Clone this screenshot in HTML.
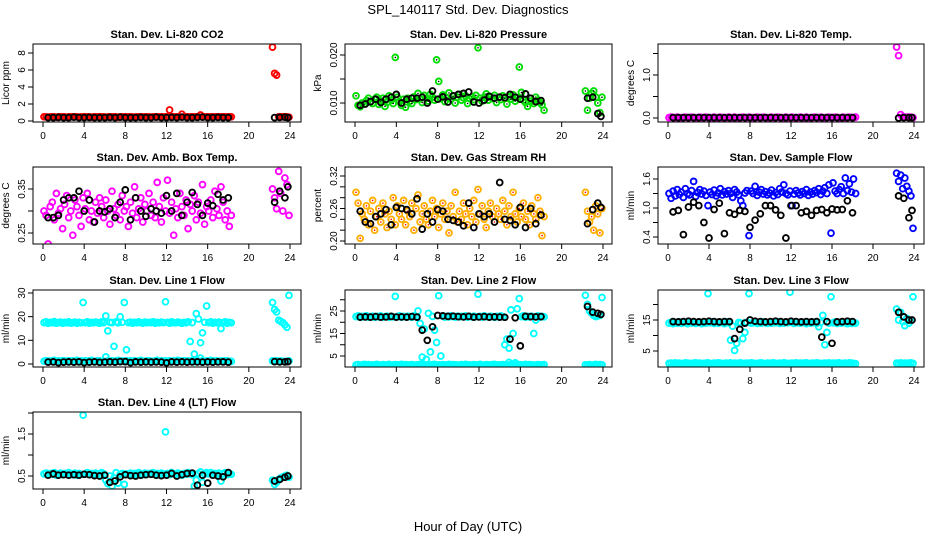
<!DOCTYPE html>
<html><head><meta charset="utf-8"><style>
html,body{margin:0;padding:0;background:#fff;}
svg{display:block;font-family:"Liberation Sans",sans-serif;}
</style></head><body>
<svg id="chart" width="936" height="540" viewBox="0 0 936 540">
<text x="468" y="14" text-anchor="middle" font-size="13">SPL_140117  Std. Dev. Diagnostics</text>
<text x="468" y="531" text-anchor="middle" font-size="13">Hour of Day (UTC)</text>
</svg>
<script>
const xTicks = [0,4,8,12,16,20,24];
const blackHours = [0.5,1,1.5,2,2.5,3,3.5,4,4.5,5,5.5,6,6.5,7,7.5,8,8.5,9,9.5,10,10.5,11,11.5,12,12.5,13,13.5,14,14.5,15,15.5,16,16.5,17,17.5,18,22.5,23,23.5,23.8];
const mainHours = [];
for (let i = 0; i < 92; i++) mainHours.push(+(0.1 + 0.2 * i).toFixed(1));
for (let i = 0; i < 9; i++) mainHours.push(+(22.3 + 0.2 * i).toFixed(1));

const co2Red = "0.5 0.5 0.45 0.5 0.5 0.5 0.45 0.5 0.5 0.5 0.5 0.45 0.5 0.5 0.5 0.5 0.5 0.45 0.5 0.5 0.5 0.5 0.5 0.45 0.5 0.5 0.5 0.5 0.5 0.5 0.45 0.5 0.5 0.5 0.5 0.5 0.45 0.5 0.5 0.5 0.5 0.5 0.5 0.5 0.45 0.5 0.5 0.5 0.5 0.5 0.5 0.5 0.45 0.5 0.5 0.5 0.5 0.5 0.5 0.5 0.5 1.3 0.5 0.5 0.5 0.5 0.5 0.8 0.5 0.5 0.5 0.5 0.5 0.5 0.5 0.5 0.7 0.5 0.5 0.5 0.5 0.5 0.5 0.5 0.5 0.5 0.5 0.5 0.5 0.5 0.5 0.5 8.7 5.6 5.4 0.5 0.5 0.5 0.5 0.5 0.45";
const co2Black = "0.4 0.4 0.42 0.4 0.4 0.45 0.4 0.4 0.42 0.4 0.4 0.4 0.42 0.4 0.45 0.4 0.4 0.4 0.42 0.4 0.4 0.45 0.4 0.4 0.42 0.4 0.45 0.4 0.4 0.42 0.45 0.4 0.4 0.42 0.4 0.4 0.4 0.42 0.45 0.4";
const presGreen = ".0115 .0095 .0092 .0100 .0098 .0105 .0110 .0102 .0099 .0108 .0112 .0097 .0104 .0110 .0093 .0101 .0115 .0106 .0099 .0195 .0112 .0103 .0095 .0108 .0091 .0110 .0104 .0099 .0113 .0107 .0120 .0109 .0101 .0116 .0110 .0104 .0118 .0112 .0106 .0190 .0145 .0109 .0117 .0103 .0111 .0121 .0108 .0114 .0100 .0112 .0118 .0106 .0111 .0115 .0099 .0109 .0113 .0107 .0116 .0215 .0110 .0104 .0112 .0119 .0106 .0113 .0109 .0116 .0101 .0112 .0107 .0115 .0110 .0098 .0113 .0108 .0117 .0104 .0111 .0175 .0122 .0106 .0101 .0093 .0110 .0104 .0099 .0112 .0106 .0101 .0096 .0085 .0125 .0085 .0110 .0120 .0125 .0112 .0100 .0080 .0112";
const presBlack = ".0095 .0098 .0103 .0108 .0101 .0108 .0112 .0118 .0100 .0108 .0110 .0110 .0112 .0100 .0125 .0108 .0113 .0102 .0115 .0118 .0120 .0123 .0102 .0100 .0106 .0114 .0110 .0112 .0111 .0118 .0112 .0108 .0119 .0110 .0103 .0105 .0110 .0112 .0078 .0072";
const tempMag = "0.01 0.02 0.01 0.01 0.02 0.01 0.01 0.01 0.02 0.01 0.01 0.02 0.01 0.01 0.01 0.02 0.01 0.01 0.02 0.01 0.01 0.01 0.02 0.01 0.01 0.02 0.01 0.01 0.01 0.02 0.01 0.01 0.02 0.01 0.01 0.01 0.02 0.01 0.01 0.02 0.01 0.01 0.01 0.02 0.01 0.01 0.02 0.01 0.01 0.01 0.02 0.01 0.01 0.02 0.01 0.01 0.01 0.02 0.01 0.01 0.02 0.01 0.01 0.01 0.02 0.01 0.01 0.02 0.01 0.01 0.01 0.02 0.01 0.01 0.02 0.01 0.01 0.01 0.02 0.01 0.01 0.02 0.01 0.01 0.01 0.02 0.01 0.01 0.02 0.01 0.01 0.02 1.65 1.45 0.08 0.02 0.02 0.02 0.02 0.02 0.01";
const tempBlack = "0.01 0.01 0.01 0.01 0.01 0.01 0.01 0.01 0.01 0.01 0.01 0.01 0.01 0.01 0.01 0.01 0.01 0.01 0.01 0.01 0.01 0.01 0.01 0.01 0.01 0.01 0.01 0.01 0.01 0.01 0.01 0.01 0.01 0.01 0.01 0.01 0.0 0.01 0.01 0.01";
const ambMag = ".300 .290 .225 .310 .320 .280 .340 .295 .305 .260 .315 .335 .285 .300 .245 .325 .310 .290 .265 .330 .305 .340 .280 .300 .275 .320 .295 .330 .310 .285 .325 .300 .270 .345 .305 .290 .315 .280 .335 .300 .310 .265 .320 .295 .355 .285 .305 .330 .275 .315 .300 .340 .290 .320 .285 .365 .310 .275 .330 .300 .370 .295 .320 .245 .305 .285 .340 .310 .290 .325 .260 .315 .300 .335 .280 .320 .295 .360 .270 .310 .300 .325 .285 .345 .305 .290 .355 .320 .280 .300 .265 .290 .350 .330 .305 .390 .340 .300 .375 .360 .290";
const ambBlack = ".285 .285 .290 .325 .330 .330 .345 .300 .325 .275 .300 .298 .305 .285 .320 .348 .280 .330 .300 .288 .305 .300 .295 .335 .300 .340 .290 .320 .342 .315 .290 .318 .312 .338 .325 .330 .320 .345 .330 .355";
const rhOrange = ".290 .270 .205 .250 .240 .265 .230 .255 .275 .220 .245 .260 .235 .270 .250 .225 .255 .240 .280 .230 .265 .250 .240 .275 .230 .255 .245 .270 .220 .260 .285 .235 .250 .265 .240 .230 .255 .275 .245 .260 .225 .250 .270 .240 .255 .215 .265 .245 .290 .235 .255 .240 .270 .250 .230 .260 .245 .275 .235 .295 .250 .265 .240 .225 .255 .270 .245 .235 .260 .250 .240 .275 .255 .230 .265 .245 .290 .250 .235 .260 .245 .270 .240 .255 .230 .265 .250 .240 .280 .255 .210 .245 .290 .255 .235 .245 .220 .265 .250 .215 .260";
const rhBlack = ".255 .235 .232 .245 .250 .258 .230 .262 .260 .258 .250 .278 .222 .250 .235 .258 .255 .240 .238 .235 .228 .270 .225 .250 .245 .250 .235 .308 .240 .238 .230 .262 .225 .260 .232 .248 .232 .258 .270 .262";
const flowBlue = "1.30 1.20 1.35 1.25 1.38 1.28 1.33 1.22 1.40 1.30 1.27 1.36 1.55 1.24 1.32 1.38 1.29 1.35 1.26 1.05 1.33 1.28 1.37 1.25 1.31 1.40 1.27 1.34 1.29 1.36 1.30 1.22 1.38 1.33 1.27 1.15 1.05 1.31 1.36 0.43 1.35 1.30 1.45 1.26 1.33 1.38 1.29 1.34 1.27 1.31 1.37 1.25 1.32 1.28 1.40 1.33 1.48 1.30 1.27 1.35 1.05 1.29 1.36 1.31 1.27 1.34 1.30 1.38 1.26 1.33 1.29 1.36 1.32 1.40 1.28 1.35 1.42 1.30 1.48 0.48 1.52 1.35 1.30 1.38 1.44 1.30 1.62 1.36 1.50 1.33 1.60 1.30 1.72 1.55 1.68 1.40 1.62 1.45 1.35 1.25 0.58";
const flowBlack = ".92 .95 .45 1.02 1.12 1.05 .70 .38 .97 1.10 .47 .90 .87 .95 .93 .60 .75 .88 1.05 1.05 .96 .85 .38 1.05 1.05 .90 .93 .85 .95 .97 .90 .98 .96 .97 1.15 .90 1.25 1.20 .80 .95";
const line1Upper = "17.5 17.8 17.2 17.6 17.4 17.9 17.3 17.5 17.7 17.2 17.6 17.4 17.8 17.3 17.5 17.7 17.2 17.6 17.4 26.0 17.5 17.8 17.3 17.6 17.4 17.7 17.5 17.2 17.8 17.5 20.3 14.0 17.6 17.5 7.5 17.8 17.4 20.0 17.6 26.0 6.0 17.5 17.7 17.3 17.6 17.4 17.8 17.5 17.3 17.7 17.4 17.6 17.5 17.8 17.3 17.6 17.4 17.7 17.5 26.3 17.6 17.3 17.8 17.5 17.4 17.7 17.5 17.2 17.6 17.4 17.8 9.5 17.5 4.2 21.3 19.0 9.0 13.2 17.6 24.5 17.5 17.8 17.3 17.6 17.4 17.7 15.0 17.5 17.8 17.3 17.6 17.4 26.0 23.0 22.0 18.5 18.0 17.5 16.5 15.5 29.0";
const line1Lower = "1.2 1.4 1.1 1.3 1.2 1.5 1.0 1.3 1.2 1.4 1.3 1.1 1.4 1.2 1.3 1.0 1.5 1.2 1.3 1.1 1.4 1.2 1.3 1.5 1.1 1.2 1.4 1.3 1.0 1.2 3.0 1.3 1.2 1.4 1.1 1.3 1.5 1.2 1.3 1.1 1.4 1.2 1.3 1.0 1.4 1.2 1.3 1.5 1.1 1.2 1.3 1.4 1.2 1.1 1.3 1.5 1.2 1.4 1.0 1.3 1.2 1.4 1.1 1.3 1.2 1.5 1.3 1.2 1.4 1.1 1.3 1.2 1.4 1.0 1.3 1.2 2.5 1.4 1.1 1.3 1.2 1.5 1.3 1.2 1.4 1.1 1.3 1.2 1.4 1.3 1.2 1.1 1.3 1.2 1.4 1.1 1.3 1.2 1.0 1.2 1.3";
const line1Black = "0.8 0.9 0.6 0.8 0.9 0.8 0.9 0.6 0.8 0.9 0.7 0.8 0.9 0.8 1.0 1.0 0.6 0.9 0.8 0.9 0.8 0.9 0.8 0.5 0.9 0.8 0.9 0.8 0.9 0.9 0.8 0.9 0.8 0.9 0.9 0.8 1.0 0.9 0.9 1.0";
const line2Upper = "22.5 22.8 22.2 22.6 22.4 22.9 22.3 22.5 22.7 22.2 22.6 22.4 22.8 22.3 22.5 22.7 22.2 22.6 22.4 31.5 22.5 22.8 22.3 22.6 22.4 22.7 22.5 22.2 22.8 22.5 25.0 19.5 4.5 17.0 3.5 24.0 6.8 22.6 16.5 11.0 31.8 5.0 22.7 22.3 22.6 22.4 22.8 22.5 22.3 22.7 22.4 22.6 22.5 22.8 22.3 22.6 22.4 22.7 22.5 32.5 22.6 22.3 22.8 22.5 22.4 22.7 22.5 22.2 22.6 22.4 22.8 22.5 10.0 12.5 8.5 25.5 15.0 2.0 26.0 30.5 22.5 22.8 22.3 22.6 22.4 22.7 15.0 21.0 22.8 22.3 22.6 22.4 32.0 28.0 25.0 24.0 23.0 22.5 22.8 23.0 31.0";
const line2Lower = "1.0 1.2 0.9 1.1 1.3 1.0 1.2 0.9 1.1 1.0 1.3 1.1 0.9 1.2 1.0 1.1 1.3 0.9 1.0 1.2 1.1 1.0 1.3 0.9 1.2 1.0 1.1 1.2 0.9 1.0 1.1 1.3 1.0 1.2 0.9 1.1 1.0 1.2 1.3 0.9 1.1 1.0 1.2 1.1 0.9 1.3 1.0 1.2 1.1 1.0 0.9 1.2 1.1 1.3 1.0 1.1 0.9 1.2 1.0 1.1 1.3 1.0 0.9 1.2 1.1 1.0 1.2 1.3 0.9 1.1 1.0 1.2 1.1 1.0 2.2 1.3 0.9 1.1 1.0 1.2 1.1 0.9 1.3 1.0 1.2 1.1 1.0 0.9 1.2 1.1 1.0 1.2 1.1 1.0 1.2 0.9 1.1 1.3 1.0 1.2 1.1";
const line2Black = "22.3 22.4 22.3 22.5 22.3 22.4 22.6 22.3 22.4 22.3 22.5 22.3 16.5 12.0 18.0 23.0 22.8 22.6 22.7 22.5 22.4 22.6 22.3 22.4 22.5 22.3 22.4 22.3 22.2 12.5 22.0 9.5 22.6 22.5 22.4 22.5 27.0 24.5 24.0 23.5";
const line3Upper = "14.0 14.3 13.8 14.2 14.0 14.4 13.9 14.1 14.3 13.8 14.2 14.0 14.4 13.9 14.1 14.3 13.8 14.2 14.0 23.5 14.1 14.4 13.9 14.2 14.0 14.3 14.1 13.8 14.4 14.1 8.5 13.0 5.2 7.5 14.2 14.0 9.0 11.0 14.3 23.5 14.0 14.1 14.3 13.9 14.2 14.0 14.4 14.1 13.9 14.3 14.0 14.2 14.1 14.4 13.9 14.2 14.0 14.3 14.1 24.0 14.2 13.9 14.4 14.1 14.0 14.3 14.1 13.8 14.2 14.0 14.4 14.1 13.9 12.8 14.2 16.5 7.0 11.0 14.0 22.5 14.1 14.4 13.9 14.2 14.0 14.3 14.1 13.8 14.4 13.9 14.2 14.0 18.5 15.0 17.5 14.5 13.2 15.5 14.0 14.8 22.5";
const line3Lower = "1.0 1.1 0.9 1.2 1.0 1.1 0.9 1.0 1.2 1.1 1.0 0.9 1.1 1.2 1.0 1.1 0.9 1.0 1.1 1.2 1.0 0.9 1.1 1.0 1.2 1.1 0.9 1.0 1.1 1.0 1.2 0.9 1.1 1.0 1.1 1.2 0.9 1.0 1.1 1.0 1.2 1.1 0.9 1.0 1.1 1.2 1.0 0.9 1.1 1.0 1.1 1.2 1.0 0.9 1.1 1.0 1.2 1.1 0.9 1.0 1.1 1.0 1.2 0.9 1.1 1.0 1.1 1.2 0.9 1.0 1.1 1.0 1.2 1.1 0.9 1.0 1.1 1.0 1.2 0.9 1.1 1.0 1.1 1.2 0.9 1.0 1.1 1.0 1.2 1.1 1.0 0.9 1.1 1.0 1.2 0.9 1.1 1.0 1.1 1.2 1.0";
const line3Black = "14.5 14.4 14.5 14.6 14.5 14.4 14.5 14.6 14.5 14.4 14.5 14.5 9.0 12.0 14.0 15.0 14.6 14.5 14.4 14.5 14.6 14.5 14.4 14.6 14.5 14.4 14.5 14.4 14.5 9.5 14.5 7.5 14.4 14.5 14.6 14.5 17.5 16.0 15.0 15.0";
const line4Cyan = ".55 .57 .53 .56 .54 .58 .52 .55 .57 .53 .56 .54 .58 .53 .55 .57 .52 .56 .54 1.95 .55 .58 .53 .56 .54 .57 .55 .52 .58 .55 .40 .32 .50 .26 .45 .58 .33 .54 .56 .30 .55 .53 .57 .52 .56 .54 .58 .55 .53 .57 .54 .56 .55 .58 .53 .56 .54 .57 .55 1.55 .56 .53 .58 .55 .54 .57 .55 .52 .56 .54 .58 .55 .53 .26 .40 .56 .60 .35 .55 .58 .55 .58 .53 .56 .54 .57 .38 .55 .58 .53 .56 .54 .40 .30 .35 .42 .45 .48 .50 .52 .47";
const line4Black = ".52 .55 .52 .53 .52 .53 .52 .54 .53 .51 .50 .52 .35 .38 .48 .53 .51 .50 .52 .53 .54 .52 .51 .52 .56 .50 .53 .56 .57 .28 .52 .33 .52 .50 .48 .58 .38 .42 .47 .50";

const parse = s => s.trim().split(/\s+/).map(Number);
const svg = document.getElementById('chart');
const NS = 'http://www.w3.org/2000/svg';
function mk(tag, attrs, parent) {
  const e = document.createElementNS(NS, tag);
  for (const k in attrs) e.setAttribute(k, attrs[k]);
  (parent || svg).appendChild(e);
  return e;
}
const cols = [{l:33,r:301,x0:43,x24:290},{l:345,r:612,x0:355,x24:603},{l:658,r:924,x0:668,x24:914}];
const rows = [{t:44,b:122},{t:167,b:244},{t:290,b:367},{t:412,b:489}];

const panels = [
 {c:0,r:0,title:"Stan. Dev. Li-820 CO2",ylab:"Licor ppm",cal:[0,121,8,53],ticks:[0,2,4,6,8],labels:[0,2,4,6,8],fmt:v=>String(v),
  series:[{x:mainHours,y:parse(co2Red),col:"#ff0000"},{x:blackHours,y:parse(co2Black),col:"#000"}]},
 {c:1,r:0,title:"Stan. Dev. Li-820 Pressure",ylab:"kPa",cal:[0.010,103,0.020,55],ticks:[0.010,0.015,0.020],labels:[0.010,0.020],fmt:v=>v.toFixed(3),
  series:[{x:mainHours,y:parse(presGreen),col:"#00dd00",dot:"#000"},{x:blackHours,y:parse(presBlack),col:"#000"}]},
 {c:2,r:0,title:"Stan. Dev. Li-820 Temp.",ylab:"degrees C",cal:[0,118,1,75],ticks:[0,0.5,1,1.5],labels:[0,1],fmt:v=>v.toFixed(1),
  series:[{x:mainHours,y:parse(tempMag),col:"#ff00ff"},{x:blackHours,y:parse(tempBlack),col:"#000"}]},
 {c:0,r:1,title:"Stan. Dev. Amb. Box Temp.",ylab:"degrees C",cal:[0.25,233,0.35,189],ticks:[0.25,0.30,0.35],labels:[0.25,0.35],fmt:v=>v.toFixed(2),
  series:[{x:mainHours,y:parse(ambMag),col:"#ff00ff"},{x:blackHours,y:parse(ambBlack),col:"#000"}]},
 {c:1,r:1,title:"Stan. Dev. Gas Stream RH",ylab:"percent",cal:[0.20,241,0.32,176],ticks:[0.20,0.22,0.24,0.26,0.28,0.30,0.32],labels:[0.20,0.26,0.32],fmt:v=>v.toFixed(2),
  series:[{x:mainHours,y:parse(rhOrange),col:"#ffb000",dot:"#ff0000"},{x:blackHours,y:parse(rhBlack),col:"#000"}]},
 {c:2,r:1,title:"Stan. Dev. Sample Flow",ylab:"ml/min",cal:[0.4,237,1.6,179],ticks:[0.4,0.7,1.0,1.3,1.6],labels:[0.4,1.0,1.6],fmt:v=>v.toFixed(1),
  series:[{x:mainHours,y:parse(flowBlue),col:"#0000ff"},{x:blackHours,y:parse(flowBlack),col:"#000"}]},
 {c:0,r:2,title:"Stan. Dev. Line 1 Flow",ylab:"ml/min",cal:[0,364,30,293],ticks:[0,10,20,30],labels:[0,10,20,30],fmt:v=>String(v),
  series:[{x:mainHours,y:parse(line1Upper),col:"#00ffff"},{x:mainHours,y:parse(line1Lower),col:"#00ffff"},{x:blackHours,y:parse(line1Black),col:"#000"}]},
 {c:1,r:2,title:"Stan. Dev. Line 2 Flow",ylab:"ml/min",cal:[5,356,25,311],ticks:[5,10,15,20,25,30],labels:[5,15,25],fmt:v=>String(v),
  series:[{x:mainHours,y:parse(line2Upper),col:"#00ffff"},{x:mainHours,y:parse(line2Lower),col:"#00ffff"},{x:blackHours,y:parse(line2Black),col:"#000"}]},
 {c:2,r:2,title:"Stan. Dev. Line 3 Flow",ylab:"ml/min",cal:[5,351,15,320],ticks:[5,10,15,20],labels:[5,15],fmt:v=>String(v),
  series:[{x:mainHours,y:parse(line3Upper),col:"#00ffff"},{x:mainHours,y:parse(line3Lower),col:"#00ffff"},{x:blackHours,y:parse(line3Black),col:"#000"}]},
 {c:0,r:3,title:"Stan. Dev. Line 4 (LT) Flow",ylab:"ml/min",cal:[0.5,476,1.5,434],ticks:[0.5,1.0,1.5,2.0],labels:[0.5,1.5],fmt:v=>v.toFixed(1),
  series:[{x:mainHours,y:parse(line4Cyan),col:"#00ffff"},{x:blackHours,y:parse(line4Black),col:"#000"}]}
];

panels.forEach((p, pi) => {
  const C = cols[p.c], R = rows[p.r];
  const g = mk('g', {});
  
  
  const xs = h => C.x0 + (C.x24 - C.x0) * h / 24;
  const [v1, p1, v2, p2] = p.cal;
  const ys = v => p1 + (v - v1) * (p2 - p1) / (v2 - v1);
  const t = mk('text', {x:(C.l + C.r) / 2, y:R.t - 6, 'text-anchor':'middle', 'font-size':11, 'font-weight':'bold'}, g);
  t.textContent = p.title;
  
  
  const yl = mk('text', {x:0, y:0, transform:`translate(${C.l - 24},${(R.t + R.b) / 2}) rotate(-90)`, 'text-anchor':'middle', 'font-size':10}, g);
  yl.textContent = p.ylab;
  
  
  const clip = mk('clipPath', {id:'cp' + pi}, g);
  mk('rect', {x:C.l, y:R.t, width:C.r - C.l, height:R.b - R.t}, clip);
  const marks = mk('g', {'clip-path':`url(#cp${pi})`}, g);
  
  
  p.series.forEach(s => {
    s.y.forEach((v, i) => {
      const cx = xs(s.x[i]), cy = ys(v);
      const c = mk('circle', {cx:cx.toFixed(1), cy:cy.toFixed(1), r:2.9, fill:'none', stroke:s.col, 'stroke-width':1.9}, marks);
      
      
      if (s.dot) mk('circle', {cx:cx.toFixed(1), cy:cy.toFixed(1), r:0.8, fill:s.dot}, marks);
    });
  });
  const box = mk('rect', {x:C.l, y:R.t, width:C.r - C.l, height:R.b - R.t, fill:'none', stroke:'#000', 'stroke-width':1}, g);
  
  
  xTicks.forEach(h => {
    mk('line', {x1:xs(h), x2:xs(h), y1:R.b, y2:R.b + 5, stroke:'#000'}, g);
    const tx = mk('text', {x:xs(h), y:R.b + 17, 'text-anchor':'middle', 'font-size':10}, g);
    tx.textContent = h;
    
    
  });
  p.ticks.forEach(v => {
    mk('line', {x1:C.l, x2:C.l - 5, y1:ys(v), y2:ys(v), stroke:'#000'}, g);
  });
  p.labels.forEach(v => {
    const ty = mk('text', {x:0, y:0, transform:`translate(${C.l - 8},${ys(v)}) rotate(-90)`, 'text-anchor':'middle', 'font-size':10}, g);
    ty.textContent = p.fmt(v);
    
    
  });
});
</script>
</body></html>
